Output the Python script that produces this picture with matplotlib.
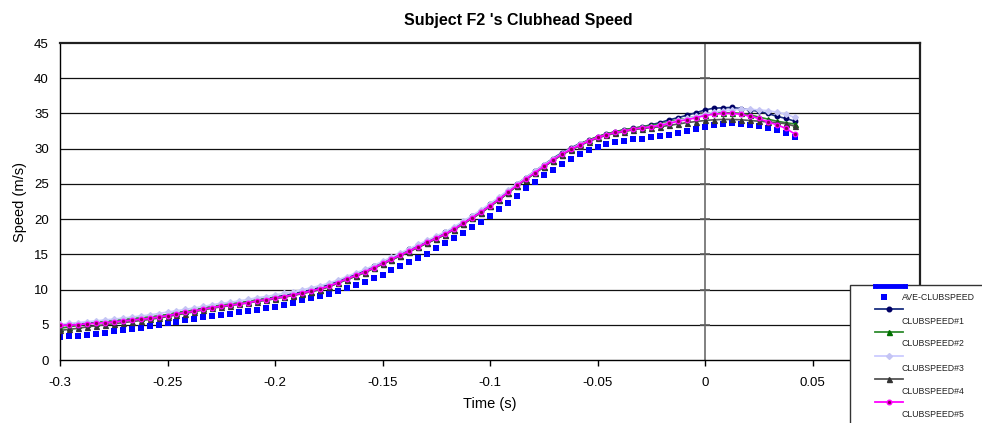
import matplotlib
matplotlib.use("Agg")
import matplotlib.pyplot as plt
from matplotlib.lines import Line2D
from matplotlib.patches import Rectangle

plt.rcParams['font.family'] = ['Liberation Sans', 'DejaVu Sans']

# tempo (s), amostras a 240 Hz
tempo = [-0.3, -0.29583, -0.29167, -0.2875, -0.28333, -0.27917, -0.275, -0.27083, -0.26667, -0.2625,
         -0.25833, -0.25417, -0.25, -0.24583, -0.24167, -0.2375, -0.23333, -0.22917, -0.225, -0.22083,
         -0.21667, -0.2125, -0.20833, -0.20417, -0.2, -0.19583, -0.19167, -0.1875, -0.18333, -0.17917,
         -0.175, -0.17083, -0.16667, -0.1625, -0.15833, -0.15417, -0.15, -0.14583, -0.14167, -0.1375,
         -0.13333, -0.12917, -0.125, -0.12083, -0.11667, -0.1125, -0.10833, -0.10417, -0.1, -0.09583,
         -0.09167, -0.0875, -0.08333, -0.07917, -0.075, -0.07083, -0.06667, -0.0625, -0.05833, -0.05417,
         -0.05, -0.04583, -0.04167, -0.0375, -0.03333, -0.02917, -0.025, -0.02083, -0.01667, -0.0125,
         -0.00833, -0.00417, 0.0, 0.00417, 0.00833, 0.0125, 0.01667, 0.02083, 0.025, 0.02917,
         0.03333, 0.0375, 0.04167]

ave_clubspeed = [3.3, 3.35, 3.45, 3.6, 3.75, 3.9, 4.05, 4.2, 4.35, 4.6,
                 4.8, 4.95, 5.2, 5.45, 5.65, 5.8, 6.05, 6.25, 6.4, 6.55,
                 6.8, 7.0, 7.15, 7.4, 7.55, 7.8, 8.15, 8.45, 8.85, 9.15,
                 9.4, 9.75, 10.2, 10.6, 11.1, 11.65, 12.05, 12.75, 13.35, 13.9,
                 14.5, 15.1, 15.85, 16.55, 17.3, 18.0, 18.9, 19.6, 20.45, 21.45,
                 22.35, 23.3, 24.35, 25.2, 26.2, 27.0, 27.8, 28.6, 29.2, 29.75,
                 30.25, 30.6, 30.95, 31.1, 31.33, 31.38, 31.67, 31.81, 32.0, 32.24,
                 32.52, 32.76, 33.1, 33.38, 33.52, 33.67, 33.52, 33.38, 33.24, 32.95,
                 32.62, 32.24, 31.67]

clubspeed1 = [5.0, 5.05, 5.15, 5.3, 5.35, 5.45, 5.55, 5.7, 5.8, 5.95,
              6.05, 6.25, 6.45, 6.7, 6.9, 7.1, 7.35, 7.6, 7.8, 7.95,
              8.1, 8.3, 8.55, 8.7, 8.95, 9.15, 9.4, 9.65, 9.95, 10.3,
              10.7, 11.2, 11.7, 12.2, 12.7, 13.3, 13.9, 14.5, 15.1, 15.7,
              16.3, 16.9, 17.5, 18.1, 18.8, 19.6, 20.4, 21.2, 22.1, 23.0,
              24.0, 25.0, 25.9, 26.8, 27.7, 28.6, 29.4, 30.1, 30.7, 31.2,
              31.7, 32.1, 32.4, 32.7, 32.9, 33.1, 33.4, 33.7, 34.1, 34.4,
              34.75, 35.1, 35.5, 35.75, 35.8, 35.85, 35.7, 35.5, 35.3, 35.0,
              34.6, 34.3, 33.9]

clubspeed2 = [4.5, 4.7, 4.9, 5.1, 5.3, 5.5, 5.65, 5.8, 5.9, 6.0,
              6.1, 6.25, 6.45, 6.7, 6.9, 7.1, 7.35, 7.6, 7.8, 7.95,
              8.1, 8.3, 8.5, 8.65, 8.85, 9.0, 9.2, 9.45, 9.7, 10.0,
              10.4, 10.9, 11.4, 11.9, 12.4, 13.0, 13.6, 14.2, 14.8, 15.4,
              16.0, 16.6, 17.2, 17.8, 18.5, 19.3, 20.1, 20.9, 21.8, 22.7,
              23.7, 24.7, 25.6, 26.5, 27.4, 28.3, 29.1, 29.9, 30.6, 31.2,
              31.7, 32.1, 32.4, 32.7, 32.9, 33.1, 33.3, 33.5, 33.8, 34.1,
              34.3, 34.6, 34.8, 35.0, 35.1, 35.1, 35.0, 34.8, 34.5, 34.2,
              33.9, 33.7, 33.5]

clubspeed3 = [5.1, 5.2, 5.3, 5.45, 5.55, 5.7, 5.8, 5.95, 6.1, 6.25,
              6.4, 6.6, 6.8, 7.0, 7.2, 7.4, 7.6, 7.85, 8.05, 8.2,
              8.4, 8.6, 8.85, 9.0, 9.25, 9.45, 9.7, 9.95, 10.25, 10.55,
              10.9, 11.35, 11.85, 12.35, 12.85, 13.4, 14.0, 14.6, 15.2, 15.8,
              16.4, 17.0, 17.6, 18.2, 18.9, 19.7, 20.5, 21.3, 22.2, 23.1,
              24.1, 25.0, 25.9, 26.8, 27.7, 28.5, 29.3, 30.0, 30.6, 31.1,
              31.5, 31.9, 32.2, 32.5, 32.7, 32.9, 33.1, 33.4, 33.7, 34.0,
              34.3, 34.6, 34.9, 35.2, 35.4, 35.5, 35.6, 35.6, 35.5, 35.4,
              35.2, 34.9, 34.45]

clubspeed4 = [4.2, 4.35, 4.5, 4.7, 4.85, 5.0, 5.15, 5.3, 5.45, 5.6,
              5.75, 5.95, 6.15, 6.4, 6.6, 6.85, 7.1, 7.35, 7.55, 7.7,
              7.9, 8.1, 8.3, 8.45, 8.7, 8.9, 9.15, 9.4, 9.7, 10.0,
              10.4, 10.9, 11.4, 11.9, 12.4, 13.0, 13.6, 14.2, 14.8, 15.4,
              16.0, 16.6, 17.2, 17.8, 18.5, 19.3, 20.1, 20.9, 21.8, 22.7,
              23.7, 24.7, 25.6, 26.5, 27.4, 28.3, 29.1, 29.8, 30.4, 31.0,
              31.5, 31.9, 32.2, 32.4, 32.7, 32.85, 33.0, 33.1, 33.3, 33.5,
              33.7, 33.85, 34.0, 34.1, 34.15, 34.15, 34.1, 34.0, 33.9, 33.8,
              33.7, 33.55, 33.2]

clubspeed5 = [4.9, 4.95, 5.0, 5.15, 5.2, 5.3, 5.4, 5.55, 5.65, 5.8,
              5.9, 6.1, 6.3, 6.55, 6.75, 6.95, 7.2, 7.45, 7.65, 7.8,
              7.95, 8.15, 8.4, 8.55, 8.8, 9.0, 9.25, 9.5, 9.8, 10.1,
              10.5, 11.0, 11.5, 12.0, 12.5, 13.1, 13.7, 14.3, 14.9, 15.5,
              16.1, 16.7, 17.3, 17.9, 18.6, 19.4, 20.2, 21.0, 21.9, 22.8,
              23.8, 24.8, 25.7, 26.6, 27.5, 28.4, 29.2, 29.9, 30.5, 31.1,
              31.6, 32.0, 32.3, 32.5, 32.8, 32.95, 33.1, 33.3, 33.6, 33.9,
              34.1, 34.4, 34.7, 34.9, 35.0, 35.0, 34.9, 34.6, 34.3, 33.8,
              33.4, 32.9, 32.1]

x_ticks = [-0.3, -0.25, -0.2, -0.15, -0.1, -0.05, 0, 0.05]
x_tick_labels = ['-0.3', '-0.25', '-0.2', '-0.15', '-0.1', '-0.05', '0', '0.05']
y_ticks = [0, 5, 10, 15, 20, 25, 30, 35, 40, 45]

# estilo de cada serie: (rotulo, dados, cor linha, marcador, cor marcador, tamanho)
series = [
    ('CLUBSPEED#1', clubspeed1, '#1a2f80', 'o', '#000066', 3.3),
    ('CLUBSPEED#2', clubspeed2, '#2e8b2e', '^', '#007000', 3.6),
    ('CLUBSPEED#3', clubspeed3, '#ccccff', 'D', '#c4c4f4', 3.0),
    ('CLUBSPEED#4', clubspeed4, '#555555', '^', '#333333', 3.6),
    ('CLUBSPEED#5', clubspeed5, '#ff00ff', 'o', '#ff00ff', 3.3),
]

fig = plt.figure(figsize=(9.82, 4.23), dpi=100)
ax = fig.add_axes([60 / 982, 63 / 423, 860 / 982, 317 / 423])

# grade horizontal
for y in y_ticks[1:-1]:
    ax.axhline(y, color='#111111', lw=0.9, zorder=1)

# linha vertical em t=0 com pequenas marcas
ax.axvline(0, color='#808080', lw=1.4, zorder=1)
ax.plot([0] * len(y_ticks[1:-1]), y_ticks[1:-1], ls='none', marker='_', ms=7,
        mew=1.2, color='#606060', zorder=1)

ax.plot(tempo, ave_clubspeed, ls='none', marker='s', ms=4.8, color='#0000ff',
        mec='#0000ff', mew=0, zorder=2)

for nome, dados, cor, mk, cor_mk, ms in series:
    mfc = '#880055' if nome == 'CLUBSPEED#5' else cor_mk
    ax.plot(tempo, dados, color=cor, lw=1.2, marker=mk, ms=ms, mfc=mfc,
            mec=cor_mk, mew=0.9, zorder=3)

ax.set_xlim(-0.3, 0.1)
ax.set_ylim(0, 45)
ax.set_xticks(x_ticks)
ax.set_xticklabels(x_tick_labels)
ax.set_yticks(y_ticks)
ax.tick_params(axis='x', direction='out', length=4, width=1, labelsize=9.5, pad=8)
ax.tick_params(axis='y', length=0, labelsize=9.5, pad=8)

for lado in ['left', 'bottom']:
    ax.spines[lado].set_color('black')
    ax.spines[lado].set_linewidth(1.0)
for lado in ['top', 'right']:
    ax.spines[lado].set_color('#202020')
    ax.spines[lado].set_linewidth(1.6)

ax.set_xlabel('Time (s)', fontsize=10.5, labelpad=6)
ax.set_ylabel('Speed (m/s)', fontsize=10.5, labelpad=5)
fig.text(518 / 982, 1 - 20 / 423, "Subject F2 's Clubhead Speed", ha='center',
         va='center', fontsize=11.5, fontweight='bold')

# legenda desenhada a mao (estilo do Excel, rotulo abaixo da amostra)
def fx(px):
    return px / 982

def fy(py):
    return 1 - py / 423

fig.add_artist(Rectangle((fx(850), fy(440)), fx(200), fy(285) - fy(440),
                         transform=fig.transFigure, facecolor='white',
                         edgecolor='#333333', lw=1.0, zorder=10))
fig.add_artist(Line2D([fx(875), fx(905)], [fy(286), fy(286)], color='#0000ff',
                      lw=3.5, marker='x', ms=3, markevery=[0, 1],
                      transform=fig.transFigure, zorder=11))
fig.add_artist(Line2D([fx(884)], [fy(297)], ls='none', marker='s', ms=4.8,
                      color='#0000ff', mew=0, transform=fig.transFigure, zorder=11))
fig.text(fx(902), fy(297), 'AVE-CLUBSPEED', fontsize=6.3, va='center',
         color='#222222', zorder=11)

y_amostra = [309, 332, 356, 379, 402]
for (nome, dados, cor, mk, cor_mk, ms), ya in zip(series, y_amostra):
    mfc = '#880055' if nome == 'CLUBSPEED#5' else cor_mk
    fig.add_artist(Line2D([fx(875), fx(903)], [fy(ya), fy(ya)], color=cor, lw=1.3,
                          transform=fig.transFigure, zorder=11))
    fig.add_artist(Line2D([fx(889)], [fy(ya)], ls='none', marker=mk, ms=ms,
                          mfc=mfc, mec=cor_mk, transform=fig.transFigure, zorder=11))
    fig.text(fx(902), fy(ya + 12), nome, fontsize=6.3, va='center',
             color='#222222', zorder=11)

fig.savefig('out.png', dpi=100)
